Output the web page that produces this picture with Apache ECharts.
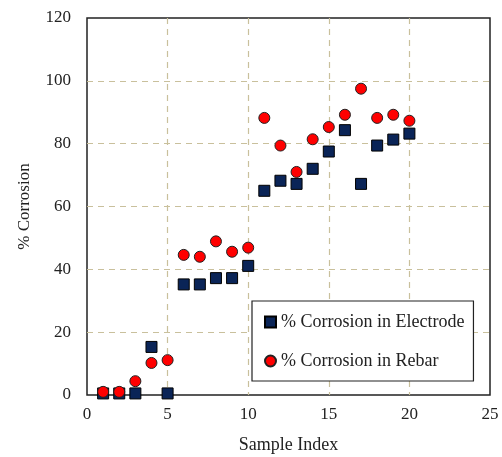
<!DOCTYPE html>
<html><head><meta charset="utf-8">
<script src="https://cdn.jsdelivr.net/npm/echarts@6/dist/echarts.min.js"></script>
<style>html,body{margin:0;padding:0;background:#fff}#c{width:502px;height:457px}</style>
</head><body><div id="c"></div>
<script>
const sampleIndex = [1,2,3,4,5,6,7,8,9,10,11,12,13,14,15,16,17,18,19,20];
const electrode = [0.5,0.5,0.5,15.3,0.5,35.2,35.2,37.2,37.2,41.1,65,68.2,67.2,72,77.5,84.3,67.2,79.4,81.3,83.2];
const rebar = [1,1,4.4,10.2,11.1,44.6,44,48.9,45.6,46.9,88.2,79.4,71,81.4,85.3,89.2,97.5,88.2,89.2,87.3];
const seriesNames = ['% Corrosion in Electrode','% Corrosion in Rebar'];
const font = 'Liberation Serif';
const chart = echarts.init(document.getElementById('c'));
const gridLine = {show:true, showMinLine:false, showMaxLine:false, lineStyle:{color:'#c9c09c', type:[6,5], width:1.2}};
chart.setOption({
  animation:false,
  grid:{left:87, right:12, top:18, bottom:62, outerBoundsMode:'none', containLabel:false, show:true, borderColor:'#222', borderWidth:1.5, backgroundColor:'#fff', z:0},
  xAxis:{type:'value', min:0, max:25, interval:5, name:'Sample Index', nameLocation:'middle', nameGap:41,
    nameTextStyle:{fontFamily:font, fontSize:18, color:'#222'},
    axisLine:{show:false}, axisTick:{show:false},
    axisLabel:{fontFamily:font, fontSize:17, color:'#222', margin:11},
    splitLine:gridLine},
  yAxis:{type:'value', min:0, max:120, interval:20, name:'% Corrosion', nameLocation:'middle', nameGap:54,
    nameTextStyle:{fontFamily:font, fontSize:17, color:'#222'},
    axisLine:{show:false}, axisTick:{show:false},
    axisLabel:{fontFamily:font, fontSize:17, color:'#222', margin:16},
    splitLine:gridLine},
  legend:{orient:'vertical', left:252, top:301, backgroundColor:'#fff', borderColor:'#222', borderWidth:1.2,
    padding:[12,9,11,12], itemGap:21, itemWidth:11, itemHeight:11, itemTextGap:3,
    textStyle:{fontFamily:font, fontSize:18, color:'#222'},
    data:[{name:seriesNames[0], icon:'rect'},{name:seriesNames[1], icon:'circle'}]},
  series:[
    {name:seriesNames[0], type:'scatter', symbol:'rect', symbolSize:11,
      itemStyle:{color:'#0a2457', borderColor:'#000', borderWidth:1, opacity:1},
      data:sampleIndex.map((x,i)=>[x, electrode[i]])},
    {name:seriesNames[1], type:'scatter', symbol:'circle', symbolSize:11,
      itemStyle:{color:'#ff0000', borderColor:'#222', borderWidth:1, opacity:1},
      data:sampleIndex.map((x,i)=>[x, rebar[i]])}
  ]
});
</script></body></html>
